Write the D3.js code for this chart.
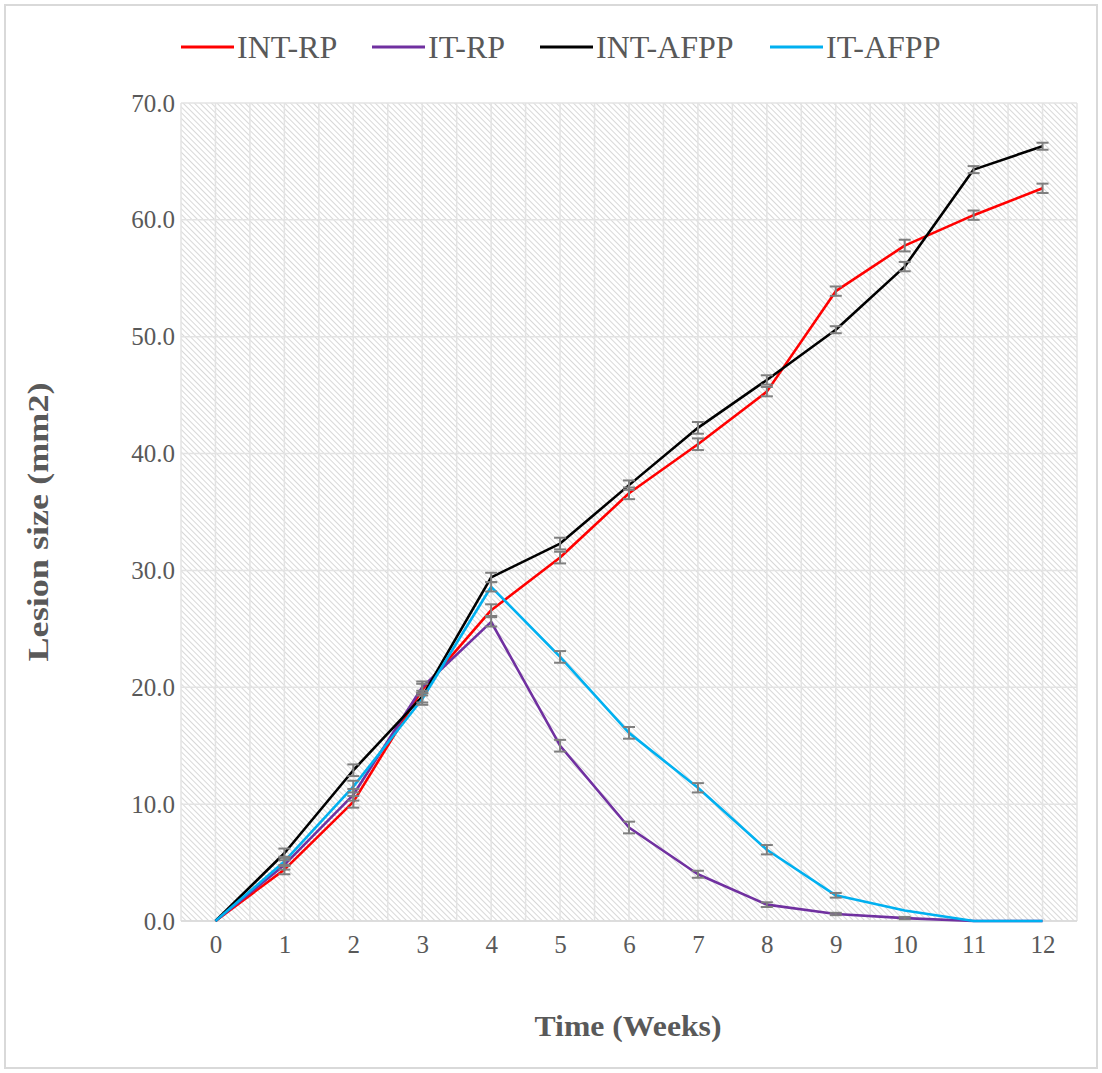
<!DOCTYPE html>
<html>
<head>
<meta charset="utf-8">
<script src="https://cdn.jsdelivr.net/npm/d3@7"></script>
<style>
  html, body { margin: 0; padding: 0; background: #fff; }
  svg { display: block; }
</style>
</head>
<body>
<svg id="chart" width="1102" height="1073"></svg>
<script>
// Lesion size over time for four treatment groups
const weeks = [0, 1, 2, 3, 4, 5, 6, 7, 8, 9, 10, 11, 12];
const seriesNames = ["INT-RP", "IT-RP", "INT-AFPP", "IT-AFPP"];
const seriesColors = ["#ff0000", "#7030a0", "#000000", "#00b0f0"];

const intRP   = [0, 4.4, 10.2, 19.8, 26.6, 31.1, 36.6, 40.8, 45.3, 53.9, 57.8, 60.4, 62.7];
const itRP    = [0, 4.8, 10.8, 20.0, 25.6, 15.0, 8.0, 4.0, 1.4, 0.6, 0.25, 0, 0];
const intAFPP = [0, 5.8, 12.9, 19.2, 29.4, 32.3, 37.3, 42.2, 46.3, 50.6, 56.0, 64.3, 66.3];
const itAFPP  = [0, 5.1, 11.5, 19.0, 28.6, 22.6, 16.1, 11.4, 6.1, 2.2, 0.9, 0, 0];

const intRPErr   = [0, 0.4, 0.5, 0.5, 0.5, 0.5, 0.5, 0.5, 0.4, 0.4, 0.5, 0.4, 0.4];
const itRPErr    = [0, 0.4, 0.5, 0.5, 0.4, 0.5, 0.5, 0.3, 0.2, 0.1, 0.1, 0, 0];
const intAFPPErr = [0, 0.4, 0.5, 0.5, 0.4, 0.5, 0.4, 0.5, 0.4, 0.3, 0.4, 0.3, 0.3];
const itAFPPErr  = [0, 0.4, 0.5, 0.5, 0.4, 0.5, 0.5, 0.4, 0.4, 0.2, 0, 0, 0];

const seriesValues = [intRP, itRP, intAFPP, itAFPP];
const seriesErrors = [intRPErr, itRPErr, intAFPPErr, itAFPPErr];

const yTicks = [0, 10, 20, 30, 40, 50, 60, 70];

const svg = d3.select("#chart");
const W = 1102, H = 1073;
const plot = { left: 181, right: 1077, top: 103, bottom: 921 };
const serif = "'Liberation Serif', 'Times New Roman', serif";

// Outer frame
svg.append("rect")
  .attr("x", 5).attr("y", 5).attr("width", W - 10).attr("height", H - 10)
  .attr("fill", "#fff").attr("stroke", "#d9d9d9").attr("stroke-width", 2);

// Diagonal hatch fill for the plot area
const defs = svg.append("defs");
const pat = defs.append("pattern")
  .attr("id", "hatch")
  .attr("patternUnits", "userSpaceOnUse")
  .attr("width", 4).attr("height", 4)
  .attr("patternTransform", "rotate(-45)");
pat.append("rect").attr("width", 4).attr("height", 4).attr("fill", "#ffffff");
pat.append("line")
  .attr("x1", 0).attr("y1", 0).attr("x2", 0).attr("y2", 4)
  .attr("stroke", "#cfcfcf").attr("stroke-width", 1.6);

const x = d3.scalePoint()
  .domain(weeks)
  .range([plot.left, plot.right])
  .padding(0.5);
const step = x.step();

const y = d3.scaleLinear()
  .domain([0, 70])
  .range([plot.bottom, plot.top]);

svg.append("rect")
  .attr("x", plot.left).attr("y", plot.top)
  .attr("width", plot.right - plot.left).attr("height", plot.bottom - plot.top)
  .attr("fill", "url(#hatch)");

// Gridlines: horizontal at each tick, vertical every half week
const grid = svg.append("g").attr("stroke", "#e3e3e3").attr("stroke-width", 1.5);
grid.selectAll("line.h").data(yTicks).join("line")
  .attr("x1", plot.left).attr("x2", plot.right)
  .attr("y1", d => y(d)).attr("y2", d => y(d));
const vPos = d3.range(0, weeks.length * 2 + 1).map(i => plot.left + i * step / 2);
grid.selectAll("line.v").data(vPos).join("line")
  .attr("x1", d => d).attr("x2", d => d)
  .attr("y1", plot.top).attr("y2", plot.bottom);

// Bottom axis line
svg.append("line")
  .attr("x1", plot.left).attr("x2", plot.right)
  .attr("y1", plot.bottom).attr("y2", plot.bottom)
  .attr("stroke", "#d9d9d9").attr("stroke-width", 1.5);

// Axes (labels only)
const yAxis = d3.axisLeft(y).tickValues(yTicks).tickFormat(d3.format(".1f")).tickSize(0).tickPadding(6);
const gy = svg.append("g").attr("transform", `translate(${plot.left},0)`).call(yAxis);
gy.select(".domain").remove();
gy.selectAll("text")
  .attr("font-family", serif)
  .attr("font-size", 25).attr("fill", "#595959");

const xAxis = d3.axisBottom(x).tickSize(0).tickPadding(14);
const gx = svg.append("g").attr("transform", `translate(0,${plot.bottom})`).call(xAxis);
gx.select(".domain").remove();
gx.selectAll("text")
  .attr("font-family", serif)
  .attr("font-size", 25).attr("fill", "#595959");

// Axis titles
svg.append("text")
  .attr("x", 628).attr("y", 1036)
  .attr("text-anchor", "middle")
  .attr("font-family", serif)
  .attr("font-weight", "bold").attr("font-size", 30).attr("fill", "#595959")
  .attr("textLength", 187).attr("lengthAdjust", "spacingAndGlyphs")
  .text("Time (Weeks)");

svg.append("text")
  .attr("transform", `translate(48,522) rotate(-90)`)
  .attr("text-anchor", "middle")
  .attr("font-family", serif)
  .attr("font-weight", "bold").attr("font-size", 29).attr("fill", "#595959")
  .attr("textLength", 279).attr("lengthAdjust", "spacingAndGlyphs")
  .text("Lesion size (mm2)");

// Series lines with error bars
const line = d3.line().x((d, i) => x(weeks[i])).y(d => y(d));

seriesValues.forEach((vals, si) => {
  svg.append("path")
    .datum(vals)
    .attr("d", line)
    .attr("fill", "none")
    .attr("stroke", seriesColors[si])
    .attr("stroke-width", 2.6)
    .attr("stroke-linejoin", "round");
});

seriesValues.forEach((vals, si) => {
  const errs = seriesErrors[si];
  const data = vals.map((v, i) => ({ w: weeks[i], v, e: errs[i] })).filter(d => d.e > 0);
  const g = svg.append("g").attr("stroke", "#7f7f7f").attr("stroke-width", 2);
  g.selectAll("line.stem").data(data).join("line")
    .attr("x1", d => x(d.w)).attr("x2", d => x(d.w))
    .attr("y1", d => y(d.v - d.e)).attr("y2", d => y(d.v + d.e));
  g.selectAll("line.top").data(data).join("line")
    .attr("x1", d => x(d.w) - 6).attr("x2", d => x(d.w) + 6)
    .attr("y1", d => y(d.v + d.e)).attr("y2", d => y(d.v + d.e));
  g.selectAll("line.bot").data(data).join("line")
    .attr("x1", d => x(d.w) - 6).attr("x2", d => x(d.w) + 6)
    .attr("y1", d => y(d.v - d.e)).attr("y2", d => y(d.v - d.e));
});

// Legend
const legendX = [181, 372, 540, 770];
const lg = svg.append("g");
seriesNames.forEach((name, i) => {
  const gx0 = legendX[i];
  lg.append("line")
    .attr("x1", gx0).attr("x2", gx0 + 53)
    .attr("y1", 47).attr("y2", 47)
    .attr("stroke", seriesColors[i]).attr("stroke-width", 3);
  lg.append("text")
    .attr("x", gx0 + 56).attr("y", 58)
    .attr("font-family", serif)
    .attr("font-size", 32).attr("fill", "#595959")
    .text(name);
});
</script>
</body>
</html>
